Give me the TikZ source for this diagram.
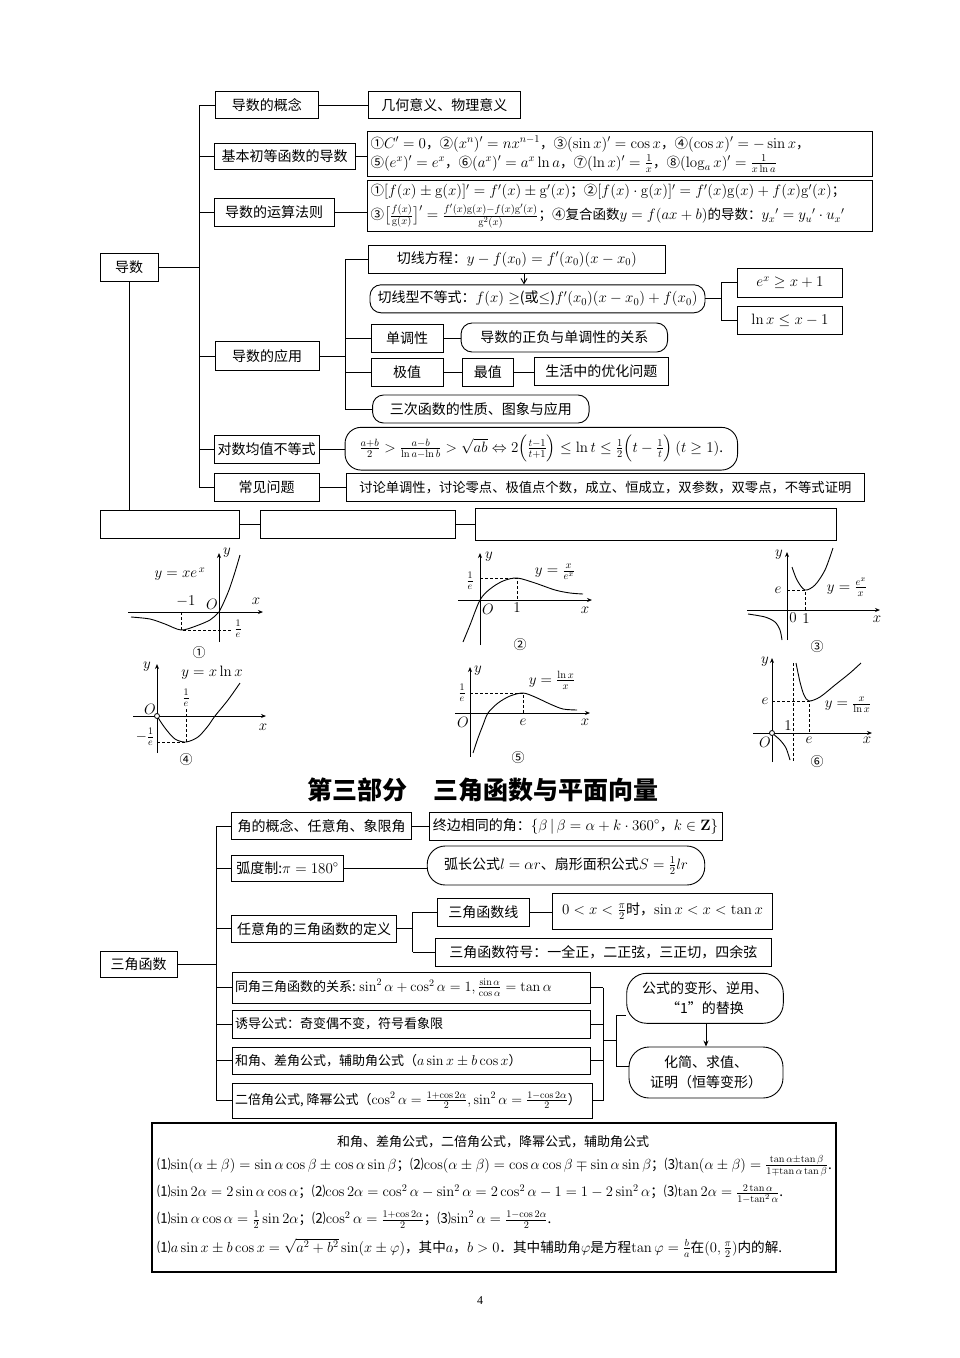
\RequirePackage{fix-cm}
\documentclass[tikz,border=0pt]{standalone}
\usepackage{amsmath,amssymb}
\usepackage[no-math]{fontspec}
\setmainfont{Noto Sans CJK SC}
\newfontfamily\serifnum{Liberation Serif}
\usetikzlibrary{arrows.meta}
\DeclareMathSizes{13}{14.2}{10}{7.5}
\DeclareMathSizes{13.5}{15}{10.5}{8}
\DeclareMathSizes{13.6}{14.6}{10.2}{7.6}
\DeclareMathSizes{14}{15}{10.5}{8}
\newcommand\fsz[2]{\fontsize{#1}{#2}\selectfont}
\begin{document}
\begin{tikzpicture}[x=1pt,y=-1pt,
  box/.style={draw, line width=0.9pt, inner sep=2pt, font=\fsz{14}{17}},
  rbox/.style={box, rounded corners=11pt},
  con/.style={line width=0.9pt},
  ax/.style={line width=1pt, -{Stealth[length=5pt,width=4pt]}},
  crv/.style={line width=0.9pt},
  dsh/.style={line width=0.7pt, dash pattern=on 3pt off 2pt},
  lbl/.style={font=\fsz{14}{16}, inner sep=0pt},
  flbl/.style={font=\fsz{13}{15}, inner sep=0pt},
  numlbl/.style={font=\fsz{13}{15}, inner sep=0pt},
  fline/.style={anchor=west, inner sep=0pt, font=\fsz{13.6}{16}}
]
\useasboundingbox (0,0) rectangle (960,1358);
\fill[white] (0,0) rectangle (960,1358);

% ================= derivative map =================
\node[box, minimum width=58pt, minimum height=28pt] (d0) at (129,267) {导数};
\node[box, minimum width=103pt, minimum height=27pt] (a1) at (266.8,105.3) {导数的概念};
\node[box, minimum width=151.5pt, minimum height=27pt] (a1r) at (444.3,105.3) {几何意义、物理意义};
\node[box, minimum width=141pt, minimum height=26pt] (a2) at (284.5,156.3) {基本初等函数的导数};
\node[box, minimum width=505pt, minimum height=45pt, text width=499pt, align=left, font=\fsz{13.5}{18}] (a2r) at (620,154.2)
 {①$C'=0$，②$(x^n)'=nx^{n-1}$，③$(\sin x)'=\cos x$，④$(\cos x)'=-\sin x$，\\[1pt]
  ⑤$(e^x)'=e^x$，⑥$(a^x)'=a^x\ln a$，⑦$(\ln x)'=\frac{1}{x}$，⑧$(\log_a x)'=\frac{1}{x\ln a}$};
\node[box, minimum width=120pt, minimum height=28pt] (a3) at (274,212.5) {导数的运算法则};
\node[box, minimum width=505pt, minimum height=51pt, text width=499pt, align=left, font=\fsz{13.5}{18}] (a3r) at (620,205.9)
 {①$[f(x)\pm \mathrm{g}(x)]'=f'(x)\pm \mathrm{g}'(x)$；②$[f(x)\cdot \mathrm{g}(x)]'=f'(x)\mathrm{g}(x)+f(x)\mathrm{g}'(x)$；\\[4pt]
  ③$\big[\frac{f(x)}{\mathrm{g}(x)}\big]'=\frac{f'(x)\mathrm{g}(x)-f(x)\mathrm{g}'(x)}{\mathrm{g}^2(x)}$；④复合函数$y=f(ax+b)$的导数：$y_x{}'=y_u{}'\cdot u_x{}'$};
\node[box, minimum width=104pt, minimum height=29pt] (a4) at (267,356.2) {导数的应用};
\node[box, minimum width=296.5pt, minimum height=28pt] (b1) at (516.8,259.2) {切线方程：$y-f(x_0)=f'(x_0)(x-x_0)$};
\node[rbox, minimum width=335pt, minimum height=28pt] (b2) at (537.5,298.8) {切线型不等式：$f(x)\geq$(或$\leq$)$f'(x_0)(x-x_0)+f(x_0)$};
\node[box, minimum width=105pt, minimum height=29pt] (c1) at (790,282.5) {$e^x\geq x+1$};
\node[box, minimum width=105pt, minimum height=28pt] (c2) at (790,320) {$\ln x\leq x-1$};
\node[box, minimum width=72pt, minimum height=28pt] (b3) at (407,338) {单调性};
\node[rbox, minimum width=206.5pt, minimum height=29pt] (b3r) at (564.3,337.5) {导数的正负与单调性的关系};
\node[box, minimum width=72pt, minimum height=28pt] (b4) at (407,372) {极值};
\node[box, minimum width=50.5pt, minimum height=28pt] (b4b) at (487.8,372) {最值};
\node[box, minimum width=134.5pt, minimum height=28pt] (b4c) at (601.3,371) {生活中的优化问题};
\node[rbox, minimum width=216.5pt, minimum height=28pt] (b5) at (480.8,409) {三次函数的性质、图象与应用};
\node[box, minimum width=105pt, minimum height=28pt] (a5) at (266.5,449.2) {对数均值不等式};
\node[rbox, rounded corners=16pt, minimum width=392.5pt, minimum height=42.7pt, font=\fsz{13.5}{16}] (a5r) at (541.3,448.7)
 {$\frac{a+b}{2}>\frac{a-b}{\ln a-\ln b}>\sqrt{ab}\Leftrightarrow 2\Big(\frac{t-1}{t+1}\Big)\leq \ln t\leq \frac{1}{2}\Big(t-\frac{1}{t}\Big)\,(t\geq 1)$.};
\node[box, minimum width=105pt, minimum height=27.7pt] (a6) at (266.5,487.2) {常见问题};
\node[box, minimum width=517.5pt, minimum height=27.7pt, font=\fsz{13.3}{16}] (a6r) at (605.3,487.2) {讨论单调性，讨论零点、极值点个数，成立、恒成立，双参数，双零点，不等式证明};
\node[box, minimum width=139pt, minimum height=28pt] (e1) at (169.5,524) {};
\node[box, minimum width=195pt, minimum height=28pt] (e2) at (357.5,524) {};
\node[box, minimum width=361pt, minimum height=32pt] (e3) at (655.5,524) {};

\coordinate (T1) at (199,0);
\draw[con] (a1.west -| T1) -- (a6.west -| T1);
\foreach \n in {a1,a2,a3,a4,a5,a6} \draw[con] (\n.west -| T1) -- (\n.west);
\draw[con] (d0.east) -- (d0.east -| T1);
\draw[con] (d0.south) -- (d0.south |- e1.north);
\draw[con] (e1.east) -- (e2.west);
\draw[con] (e2.east) -- (e2.east -| e3.west);
\draw[con] (a1.east) -- (a1r.west);
\draw[con] (a2.east) -- (a2.east -| a2r.west);
\draw[con] (a3.east) -- (a3.east -| a3r.west);
\draw[con] (a5.east) -- (a5.east -| a5r.west);
\draw[con] (a6.east) -- (a6.east -| a6r.west);
\coordinate (S1) at (345,0);
\draw[con] (a4.east) -- (a4.east -| S1);
\draw[con] (b1.west -| S1) -- (b5.west -| S1);
\foreach \n in {b1,b3,b4,b5} \draw[con] (\n.west -| S1) -- (\n.west);
\draw[con] (b3.east) -- (b3.east -| b3r.west);
\draw[con] (b4.east) -- (b4.east -| b4b.west);
\draw[con] (b4b.east) -- (b4b.east -| b4c.west);
\coordinate (ar1) at (524,0);
\draw[con, -{Straight Barb[length=5pt,width=6pt]}] (b1.south -| ar1) -- (b2.north -| ar1);
\coordinate (S3) at (721,0);
\draw[con] (b2.east) -- (b2.east -| S3);
\draw[con] (c1.west -| S3) -- (c2.west -| S3);
\draw[con] (c1.west -| S3) -- (c1.west);
\draw[con] (c2.west -| S3) -- (c2.west);

% ================= graphs =================
% graph 1: y = x e^x
\draw[ax] (128,612) -- (263,612);
\draw[ax] (219,642) -- (219,553);
\draw[crv] plot[smooth] coordinates {(131,617) (150,619) (165,624) (181,630) (196,626) (210,620) (217,614) (219,612) (223,604) (229,590) (235,572) (240,555)};
\draw[dsh] (181,612) -- (181,630) -- (231,630);
\node[lbl] (g1f) at (180,574) {$y=xe^{\,x}$};
\node[lbl] (g1a) at (186,601) {$-1$};
\node[lbl] (g1o) at (212,604) {$O$};
\node[lbl] (g1x) at (256,601) {$x$};
\node[lbl] (g1y) at (227,553) {$y$};
\node[flbl] (g1e) at (238,629) {$\frac{1}{e}$};
\node[numlbl] (g1n) at (199,653) {①};

% graph 4: y = x ln x
\draw[ax] (133,716) -- (266,716);
\draw[ax] (157,753) -- (157,664);
\draw[crv] plot[smooth] coordinates {(157,716) (165,728) (175,739) (186,742) (198,737) (208,726) (215,716) (228,700) (240,683)};
\draw[dsh] (186,709) -- (186,742);
\draw[dsh] (157,742) -- (186,742);
\draw[line width=0.8pt, fill=white] (157,716) circle (2.5pt);
\node[lbl] (g4f) at (212,673) {$y=x\ln x$};
\node[flbl] (g4e) at (186,698) {$\frac{1}{e}$};
\node[flbl] (g4m) at (145,737) {$-\frac{1}{e}$};
\node[lbl] (g4o) at (150,709) {$O$};
\node[lbl] (g4x) at (263,727) {$x$};
\node[lbl] (g4y) at (147,667) {$y$};
\node[numlbl] (g4n) at (186,760) {④};

% graph 2: y = x/e^x
\draw[ax] (458,600) -- (592,600);
\draw[ax] (480,645) -- (480,553);
\draw[crv] plot[smooth] coordinates {(463,642) (470,625) (480,600) (490,589) (503,581) (517,578) (535,583) (555,590) (570,593) (583,594)};
\draw[dsh] (480,578) -- (517,578) -- (517,600);
\node[flbl] (g2e) at (470,581) {$\frac{1}{e}$};
\node[lbl] (g2o) at (488,609) {$O$};
\node[lbl] (g2one) at (517,608) {$1$};
\node[lbl] (g2x) at (585,610) {$x$};
\node[lbl] (g2y) at (489,557) {$y$};
\node[lbl] (g2f) at (555,572) {$y=\frac{x}{e^x}$};
\node[numlbl] (g2n) at (520,645) {②};

% graph 3: y = e^x/x
\draw[ax] (747,610) -- (880,610);
\draw[ax] (787,640) -- (787,552);
\draw[crv] plot[smooth] coordinates {(792,567) (797,580) (805,590) (815,585) (825,570) (833,548)};
\draw[crv] plot[smooth] coordinates {(748,614) (765,617) (775,622) (780,630) (782,640)};
\draw[dsh] (787,590) -- (805,590) -- (805,610);
\node[lbl] (g3e) at (778,590) {$e$};
\node[lbl] (g3o) at (793,618) {$0$};
\node[lbl] (g3one) at (806,619) {$1$};
\node[lbl] (g3x) at (877,619) {$x$};
\node[lbl] (g3y) at (779,555) {$y$};
\node[lbl] (g3f) at (847,587) {$y=\frac{e^x}{x}$};
\node[numlbl] (g3n) at (817,647) {③};

% graph 5: y = ln x / x
\draw[ax] (455,713) -- (590,713);
\draw[ax] (470,757) -- (470,667);
\draw[crv] plot[smooth] coordinates {(473,753) (478,738) (483,725) (488,713) (498,703) (510,696) (523,693) (535,697) (550,704) (563,709) (577,710)};
\draw[dsh] (470,693) -- (523,693) -- (523,713);
\node[flbl] (g5e) at (462,693) {$\frac{1}{e}$};
\node[lbl] (g5o) at (463,722) {$O$};
\node[lbl] (g5ee) at (523,722) {$e$};
\node[lbl] (g5x) at (585,722) {$x$};
\node[lbl] (g5y) at (478,671) {$y$};
\node[lbl] (g5f) at (552,680) {$y=\frac{\ln x}{x}$};
\node[numlbl] (g5n) at (518,758) {⑤};

% graph 6: y = x/ln x
\draw[ax] (753,733) -- (872,733);
\draw[ax] (772,762) -- (772,658);
\draw[dsh] (793,663) -- (793,762);
\draw[crv] plot[smooth] coordinates {(796,663) (800,682) (804,695) (809,701) (820,697) (835,685) (850,673) (861,663)};
\draw[crv] plot[smooth] coordinates {(772,733) (780,740) (786,748) (790,760)};
\draw[dsh] (772,701) -- (809,701) -- (809,733);
\draw[line width=0.8pt, fill=white] (772,733) circle (2.5pt);
\node[lbl] (g6e) at (765,701) {$e$};
\node[lbl] (g6one) at (788,726) {$1$};
\node[lbl] (g6o) at (765,742) {$O$};
\node[lbl] (g6ee) at (809,740) {$e$};
\node[lbl] (g6x) at (867,740) {$x$};
\node[lbl] (g6y) at (765,662) {$y$};
\node[lbl] (g6f) at (848,705) {$y=\frac{x}{\ln x}$};
\node[numlbl] (g6n) at (817,762) {⑥};

% ================= title =================
\node[inner sep=0pt, font=\fsz{25}{28}\bfseries] (title) at (482.5,790) {第三部分\hspace{26pt}三角函数与平面向量};

% ================= trig map =================
\node[box, minimum width=77pt, minimum height=26pt] (q0) at (138.5,964) {三角函数};
\node[box, minimum width=180pt, minimum height=26.6pt] (p1) at (321.7,826) {角的概念、任意角、象限角};
\node[box, minimum width=293pt, minimum height=28pt] (p1r) at (575.5,826) {终边相同的角：$\{\beta\,|\,\beta=\alpha+k\cdot 360^\circ$，$k\in \mathbf{Z}\}$};
\node[box, minimum width=111.6pt, minimum height=26pt] (p2) at (287.5,868) {弧度制:$\pi=180^\circ$};
\node[rbox, rounded corners=18pt, minimum width=277.5pt, minimum height=39pt] (p2r) at (566,865.5) {弧长公式$l=\alpha r$、扇形面积公式$S=\frac{1}{2}lr$};
\node[box, minimum width=165pt, minimum height=27.7pt] (p3) at (314.2,928.8) {任意角的三角函数的定义};
\node[box, minimum width=91.5pt, minimum height=28.7pt] (r1) at (483.3,912.3) {三角函数线};
\node[box, minimum width=220pt, minimum height=36pt] (r2) at (662.5,911) {$0<x<\frac{\pi}{2}$时，$\sin x<x<\tan x$};
\node[box, minimum width=335.4pt, minimum height=28pt] (r3) at (603.3,952) {三角函数符号：一全正，二正弦，三正切，四余弦};
\node[box, minimum width=358pt, minimum height=31pt, font=\fsz{13}{16}] (p4) at (411,987.5) {\makebox[352pt][l]{同角三角函数的关系: $\sin^2\alpha+\cos^2\alpha=1,\frac{\sin\alpha}{\cos\alpha}=\tan\alpha$}};
\node[box, minimum width=358pt, minimum height=28pt, font=\fsz{13}{16}] (p5) at (411,1024) {\makebox[352pt][l]{诱导公式：奇变偶不变，符号看象限}};
\node[box, minimum width=358pt, minimum height=27pt, font=\fsz{13}{16}] (p6) at (411,1060.5) {\makebox[352pt][l]{和角、差角公式，辅助角公式（$a\sin x\pm b\cos x$）}};
\node[box, minimum width=360pt, minimum height=35pt, font=\fsz{13}{16}] (p7) at (412,1100.5) {\makebox[354pt][l]{二倍角公式, 降幂公式（$\cos^2\alpha=\frac{1+\cos 2\alpha}{2},\sin^2\alpha=\frac{1-\cos 2\alpha}{2}$）}};
\node[rbox, rounded corners=20pt, minimum width=156.6pt, minimum height=50pt, align=center, font=\fsz{14}{20}] (s1) at (705,998.3) {公式的变形、逆用、\\“1”的替换};
\node[rbox, rounded corners=20pt, minimum width=154pt, minimum height=51pt, align=center, font=\fsz{14}{20}] (s2) at (706,1072.5) {化简、求值、\\证明（恒等变形）};

\coordinate (T2) at (216,0);
\draw[con] (p1.west -| T2) -- (p7.west -| T2);
\foreach \n in {p1,p2,p3,p4,p5,p6,p7} \draw[con] (\n.west -| T2) -- (\n.west);
\draw[con] (q0.east) -- (q0.east -| T2);
\draw[con] (p1.east) -- (p1r.west);
\draw[con] (p2.east) -- (p2.east -| p2r.west);
\coordinate (S2) at (412.6,0);
\draw[con] (p3.east) -- (p3.east -| S2);
\draw[con] (r1.west -| S2) -- (r3.west -| S2);
\draw[con] (r1.west -| S2) -- (r1.west);
\draw[con] (r3.west -| S2) -- (r3.west);
\draw[con] (r1.east) -- (r1.east -| r2.west);
\coordinate (B1) at (603,0);
\foreach \n in {p4,p5,p6,p7} \draw[con] (\n.east) -- (\n.east -| B1);
\draw[con] (p4.east -| B1) -- (p7.east -| B1);
\coordinate (B2) at (616,1040);
\coordinate (B3) at (616,1015);
\coordinate (B4) at (616,1066);
\draw[con] (B2 -| B1) -- (B2);
\draw[con] (B3) -- (B4);
\draw[con] (B3) -- (B3 -| s1.west);
\draw[con] (B4) -- (B4 -| s2.west);
\coordinate (ar2) at (706,0);
\draw[con, -{Stealth[length=6pt,width=5pt]}] (s1.south -| ar2) -- (s2.north -| ar2);

% ================= formula box =================
\node[draw, line width=1.1pt, minimum width=684pt, minimum height=149pt] (k0) at (494,1197.5) {};
\node[inner sep=0pt, font=\fsz{13}{15}] (k1) at (493,1142) {和角、差角公式，二倍角公式，降幂公式，辅助角公式};
\node[fline] (k2) at (157,1166) {⑴$\sin(\alpha\pm\beta)=\sin\alpha\cos\beta\pm\cos\alpha\sin\beta$；⑵$\cos(\alpha\pm\beta)=\cos\alpha\cos\beta\mp\sin\alpha\sin\beta$；⑶$\tan(\alpha\pm\beta)=\frac{\tan\alpha\pm\tan\beta}{1\mp\tan\alpha\tan\beta}$.};
\node[fline] (k3) at (157,1194) {⑴$\sin 2\alpha=2\sin\alpha\cos\alpha$；⑵$\cos 2\alpha=\cos^2\alpha-\sin^2\alpha=2\cos^2\alpha-1=1-2\sin^2\alpha$；⑶$\tan 2\alpha=\frac{2\tan\alpha}{1-\tan^2\alpha}$.};
\node[fline] (k4) at (157,1220) {⑴$\sin\alpha\cos\alpha=\frac{1}{2}\sin 2\alpha$；⑵$\cos^2\alpha=\frac{1+\cos 2\alpha}{2}$；⑶$\sin^2\alpha=\frac{1-\cos 2\alpha}{2}$.};
\node[fline] (k5) at (157,1248) {⑴$a\sin x\pm b\cos x=\sqrt{a^2+b^2}\sin(x\pm\varphi)$，其中$a$，$b>0$．其中辅助角$\varphi$是方程$\tan\varphi=\frac{b}{a}$在$(0,\frac{\pi}{2})$内的解.};

\node[inner sep=0pt, font=\serifnum\fsz{12}{14}] (pg) at (480,1301) {4};
\end{tikzpicture}
\end{document}
